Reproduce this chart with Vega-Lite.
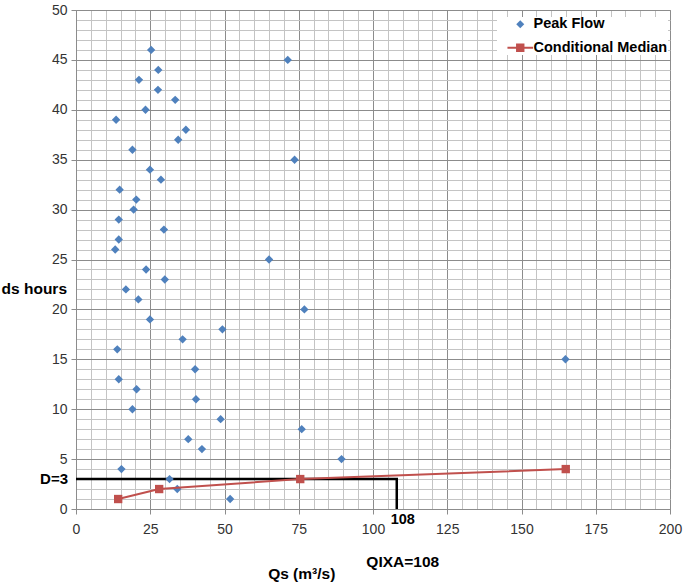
{
  "$schema": "https://vega.github.io/schema/vega-lite/v6.json",
  "width": 594,
  "height": 499,
  "autosize": {"type": "none"},
  "padding": {"left": 76, "top": 10, "right": 15, "bottom": 76},
  "background": "white",
  "config": {"view": {"stroke": "#8c8c8c"}, "font": "Liberation Sans"},
  "datasets": {
    "peak": [
      {"d": 1, "q": 51.9, "series": "Peak Flow"},
      {"d": 2, "q": 34.1, "series": "Peak Flow"},
      {"d": 3, "q": 31.5, "series": "Peak Flow"},
      {"d": 4, "q": 15.3, "series": "Peak Flow"},
      {"d": 5, "q": 89.4, "series": "Peak Flow"},
      {"d": 6, "q": 42.4, "series": "Peak Flow"},
      {"d": 7, "q": 37.8, "series": "Peak Flow"},
      {"d": 8, "q": 76.0, "series": "Peak Flow"},
      {"d": 9, "q": 48.7, "series": "Peak Flow"},
      {"d": 10, "q": 19.0, "series": "Peak Flow"},
      {"d": 11, "q": 40.4, "series": "Peak Flow"},
      {"d": 12, "q": 20.4, "series": "Peak Flow"},
      {"d": 13, "q": 14.4, "series": "Peak Flow"},
      {"d": 14, "q": 40.1, "series": "Peak Flow"},
      {"d": 15, "q": 164.8, "series": "Peak Flow"},
      {"d": 16, "q": 13.9, "series": "Peak Flow"},
      {"d": 17, "q": 35.9, "series": "Peak Flow"},
      {"d": 18, "q": 49.3, "series": "Peak Flow"},
      {"d": 19, "q": 24.9, "series": "Peak Flow"},
      {"d": 20, "q": 76.9, "series": "Peak Flow"},
      {"d": 21, "q": 21.0, "series": "Peak Flow"},
      {"d": 22, "q": 16.8, "series": "Peak Flow"},
      {"d": 23, "q": 29.9, "series": "Peak Flow"},
      {"d": 24, "q": 23.6, "series": "Peak Flow"},
      {"d": 25, "q": 65.0, "series": "Peak Flow"},
      {"d": 26, "q": 13.2, "series": "Peak Flow"},
      {"d": 27, "q": 14.4, "series": "Peak Flow"},
      {"d": 28, "q": 29.6, "series": "Peak Flow"},
      {"d": 29, "q": 14.4, "series": "Peak Flow"},
      {"d": 30, "q": 19.4, "series": "Peak Flow"},
      {"d": 31, "q": 20.3, "series": "Peak Flow"},
      {"d": 32, "q": 14.7, "series": "Peak Flow"},
      {"d": 33, "q": 28.6, "series": "Peak Flow"},
      {"d": 34, "q": 24.9, "series": "Peak Flow"},
      {"d": 35, "q": 73.6, "series": "Peak Flow"},
      {"d": 36, "q": 19.0, "series": "Peak Flow"},
      {"d": 37, "q": 34.4, "series": "Peak Flow"},
      {"d": 38, "q": 37.0, "series": "Peak Flow"},
      {"d": 39, "q": 13.5, "series": "Peak Flow"},
      {"d": 40, "q": 23.4, "series": "Peak Flow"},
      {"d": 41, "q": 33.4, "series": "Peak Flow"},
      {"d": 42, "q": 27.6, "series": "Peak Flow"},
      {"d": 43, "q": 21.2, "series": "Peak Flow"},
      {"d": 44, "q": 27.7, "series": "Peak Flow"},
      {"d": 45, "q": 71.3, "series": "Peak Flow"},
      {"d": 46, "q": 25.3, "series": "Peak Flow"}
    ],
    "median": [
      {"d": 1, "q": 14.2},
      {"d": 2, "q": 28.0},
      {"d": 3, "q": 75.5},
      {"d": 4, "q": 164.9}
    ],
    "guide": [
      {"q": 0, "d": 3, "o": 0},
      {"q": 108, "d": 3, "o": 1},
      {"q": 108, "d": 0, "o": 2}
    ]
  },
  "encoding": {
    "x": {
      "field": "q", "type": "quantitative",
      "scale": {"domain": [0, 200], "nice": false},
      "axis": {
        "values": [0,5,10,15,20,25,30,35,40,45,50,55,60,65,70,75,80,85,90,95,100,105,110,115,120,125,130,135,140,145,150,155,160,165,170,175,180,185,190,195,200],
        "title": null,
        "grid": true,
        "gridColor": {"condition": {"test": "datum.value % 25 === 0", "value": "#8c8c8c"}, "value": "#c4c4c4"},
        "gridWidth": 1,
        "tickSize": 5,
        "tickColor": "#8c8c8c",
        "tickOpacity": {"condition": {"test": "datum.value % 25 === 0", "value": 1}, "value": 0},
        "labelExpr": "datum.value % 25 === 0 ? datum.label : ''",
        "labelFont": "Liberation Sans",
        "labelFontSize": 14,
        "labelColor": "#333333",
        "labelPadding": 8,
        "labelFlush": false,
        "labelOverlap": false,
        "domainColor": "#8c8c8c"
      }
    },
    "y": {
      "field": "d", "type": "quantitative",
      "scale": {"domain": [0, 50], "nice": false},
      "axis": {
        "values": [0,1,2,3,4,5,6,7,8,9,10,11,12,13,14,15,16,17,18,19,20,21,22,23,24,25,26,27,28,29,30,31,32,33,34,35,36,37,38,39,40,41,42,43,44,45,46,47,48,49,50],
        "title": null,
        "grid": true,
        "gridColor": {"condition": {"test": "datum.value % 5 === 0", "value": "#8c8c8c"}, "value": "#c4c4c4"},
        "gridWidth": 1,
        "tickSize": 5,
        "tickColor": "#8c8c8c",
        "tickOpacity": {"condition": {"test": "datum.value % 5 === 0", "value": 1}, "value": 0},
        "labelExpr": "datum.value % 5 === 0 ? datum.label : ''",
        "labelFont": "Liberation Sans",
        "labelFontSize": 14,
        "labelColor": "#333333",
        "labelPadding": 4,
        "labelFlush": false,
        "labelOverlap": false,
        "domainColor": "#8c8c8c"
      }
    }
  },
  "layer": [
    {
      "data": {"name": "guide"},
      "mark": {"type": "line", "color": "black", "strokeWidth": 2.5},
      "encoding": {
        "order": {"field": "o", "type": "quantitative"}
      }
    },
    {
      "data": {"name": "peak"},
      "mark": {"type": "point", "filled": true, "size": 70, "opacity": 1, "strokeWidth": 0},
      "encoding": {
        "color": {
          "field": "series", "type": "nominal",
          "scale": {"domain": ["Peak Flow", "Conditional Median"], "range": ["#4F81BD", "#C0504D"]},
          "legend": {
            "orient": "none", "legendX": 421, "legendY": 7, "title": null,
            "fillColor": "white", "padding": 0, "symbolOffset": 16, "labelOffset": 6,
            "labelFont": "Liberation Sans", "labelFontSize": 14.5, "labelFontWeight": "bold",
            "labelColor": "black", "rowPadding": 8.5, "symbolSize": 64, "symbolStrokeWidth": 0,
            "symbolOpacity": 1
          }
        },
        "shape": {
          "field": "series", "type": "nominal",
          "scale": {"domain": ["Peak Flow", "Conditional Median"], "range": ["diamond", "M-3.2,-0.25H3.2V0.25H-3.2Z M-1.05,-1.05H1.05V1.05H-1.05Z"]},
          "legend": {
            "orient": "none", "legendX": 421, "legendY": 7, "title": null,
            "fillColor": "white", "padding": 0, "symbolOffset": 16, "labelOffset": 6,
            "labelFont": "Liberation Sans", "labelFontSize": 14.5, "labelFontWeight": "bold",
            "labelColor": "black", "rowPadding": 8.5, "symbolSize": 64, "symbolStrokeWidth": 0,
            "symbolOpacity": 1
          }
        }
      }
    },
    {
      "data": {"name": "median"},
      "mark": {"type": "line", "color": "#C0504D", "strokeWidth": 2},
      "encoding": {}
    },
    {
      "data": {"name": "median"},
      "mark": {"type": "point", "shape": "square", "filled": true, "size": 70, "color": "#C0504D", "opacity": 1, "strokeWidth": 0},
      "encoding": {}
    },
    {
      "data": {"values": [{"q": 0, "d": 3, "t": "D=3"}]},
      "mark": {"type": "text", "align": "right", "baseline": "middle", "dx": -8, "font": "Liberation Sans", "fontSize": 15, "fontWeight": "bold", "color": "black"},
      "encoding": {"text": {"field": "t"}}
    },
    {
      "data": {"values": [{"q": 0, "d": 22, "t": "ds hours"}]},
      "mark": {"type": "text", "align": "right", "baseline": "middle", "dx": -9, "font": "Liberation Sans", "fontSize": 15.5, "fontWeight": "bold", "color": "black"},
      "encoding": {"text": {"field": "t"}}
    },
    {
      "data": {"values": [{"q": 108, "d": 0, "t": "108"}]},
      "mark": {"type": "text", "align": "center", "baseline": "alphabetic", "dx": 6, "dy": 15, "font": "Liberation Sans", "fontSize": 14.5, "fontWeight": "bold", "color": "black"},
      "encoding": {"text": {"field": "t"}}
    },
    {
      "data": {"values": [{"q": 108, "d": 0, "t": "QIXA=108"}]},
      "mark": {"type": "text", "align": "center", "baseline": "alphabetic", "dx": 6, "dy": 58, "font": "Liberation Sans", "fontSize": 15.5, "fontWeight": "bold", "color": "black"},
      "encoding": {"text": {"field": "t"}}
    },
    {
      "data": {"values": [{"q": 76, "d": 0, "t": "Qs (m³/s)"}]},
      "mark": {"type": "text", "align": "center", "baseline": "alphabetic", "dy": 70, "font": "Liberation Sans", "fontSize": 15.5, "fontWeight": "bold", "color": "black"},
      "encoding": {"text": {"field": "t"}}
    }
  ]
}
